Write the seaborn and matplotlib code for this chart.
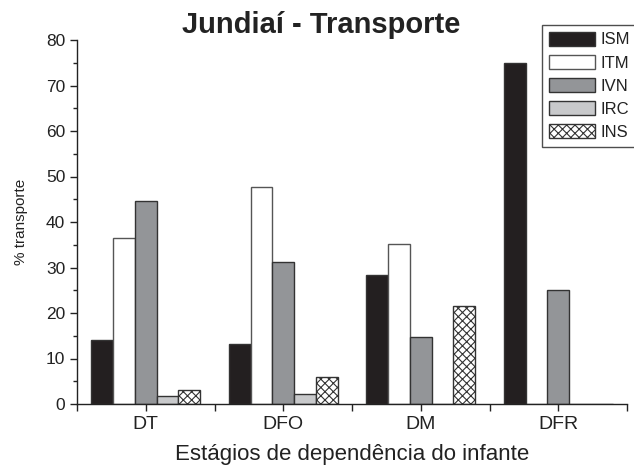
import numpy as np
import pandas as pd
import matplotlib
matplotlib.use("Agg")
import matplotlib.pyplot as plt
import seaborn as sns
from matplotlib.ticker import MultipleLocator, FixedLocator

# ── DATOS ──────────────────────────────────────────────
estagios = ["DT", "DFO", "DM", "DFR"]
tipos = ["ISM", "ITM", "IVN", "IRC", "INS"]
ism = [14.0, 13.2, 28.4, 75.0]
itm = [36.5, 47.6, 35.2, 0.0]
ivn = [44.7, 31.2, 14.8, 25.0]
irc = [1.8, 2.2, 0.0, 0.0]
ins = [3.0, 5.9, 21.6, 0.0]

df = pd.DataFrame({"ISM": ism, "ITM": itm, "IVN": ivn, "IRC": irc, "INS": ins},
                  index=estagios)
df = df.reset_index().melt(id_vars="index", var_name="tipo", value_name="valor")
df = df.rename(columns={"index": "estagio"})

cores = {"ISM": "#231f20", "ITM": "#ffffff", "IVN": "#939598",
         "IRC": "#c8c9cb", "INS": "#ffffff"}

sns.set_style("ticks")
plt.rcParams["font.family"] = ["Liberation Sans", "DejaVu Sans"]
plt.rcParams["hatch.linewidth"] = 0.8

fig = plt.figure(figsize=(6.34, 4.70), dpi=100)
ax = fig.add_axes([77 / 634, 66 / 470, 550 / 634, 364 / 470])

sns.barplot(data=df, x="estagio", y="valor", hue="tipo", order=estagios,
            hue_order=tipos, palette=cores, width=0.79, saturation=1,
            edgecolor="#333333", linewidth=1.0, ax=ax, legend=False)

# hachura e bordas por série
for cont, tipo in zip(ax.containers, tipos):
    for barra in cont:
        if tipo == "INS":
            barra.set_hatch("xxxx")
        if tipo == "ITM":
            barra.set_edgecolor("#555555")

ax.set_xlim(-0.5, 3.5)
ax.set_ylim(0, 80)
ax.yaxis.set_major_locator(MultipleLocator(10))
ax.yaxis.set_minor_locator(MultipleLocator(5))
ax.xaxis.set_minor_locator(FixedLocator([-0.5, 0.5, 1.5, 2.5, 3.5]))
ax.tick_params(axis="both", which="major", length=5, width=1, colors="#222222")
ax.tick_params(axis="y", which="major", labelsize=12.5)
ax.tick_params(axis="x", which="major", labelsize=14)
ax.tick_params(axis="y", which="minor", length=3, width=1, colors="#222222")
ax.tick_params(axis="x", which="minor", length=5, width=1, colors="#222222")
sns.despine(ax=ax)
for s in ["left", "bottom"]:
    ax.spines[s].set_linewidth(1)
    ax.spines[s].set_color("#222222")

ax.set_xlabel("Estágios de dependência do infante", fontsize=16,
              color="#222222", labelpad=8)
ax.set_ylabel("% transporte", fontsize=11, color="#222222", labelpad=13)
ax.set_title("Jundiaí - Transporte", fontsize=21, fontweight="bold",
             color="#222222", pad=5, x=0.444)

handles = [cont[0] for cont in ax.containers]
leg = ax.legend(handles, tipos, loc="upper left",
                bbox_to_anchor=(542 / 634, 1 - 25 / 470),
                bbox_transform=fig.transFigure, frameon=True, fancybox=False,
                fontsize=12, handlelength=2.8, handleheight=0.9,
                handletextpad=0.3, labelspacing=0.45, borderpad=0.4,
                borderaxespad=0, edgecolor="#222222")
leg.get_frame().set_linewidth(1)
for t in leg.get_texts():
    t.set_color("#222222")

fig.savefig("out.png", dpi=100)
